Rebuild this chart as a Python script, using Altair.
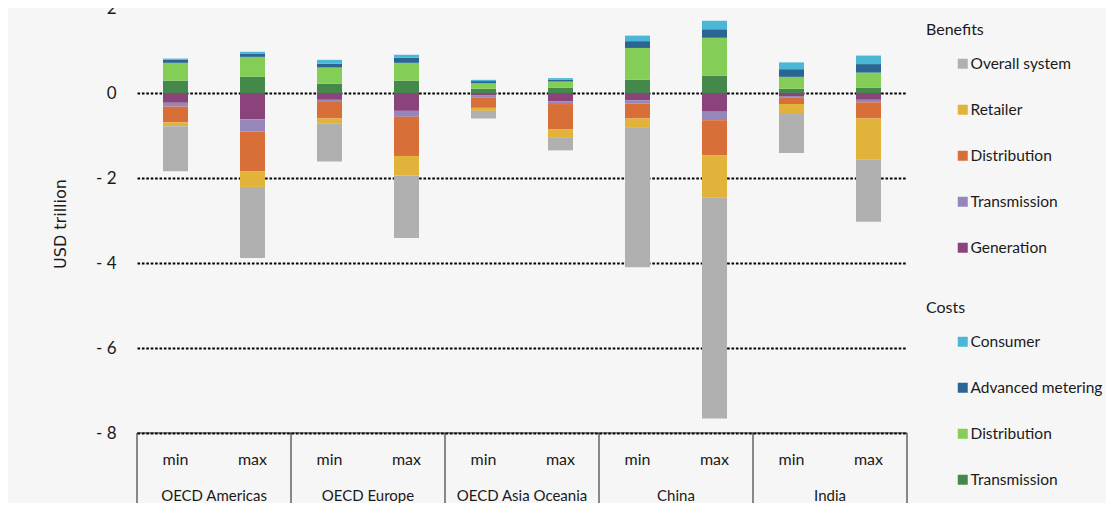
import altair as alt
import pandas as pd

# ---------------- data ----------------
regions = ["OECD Americas", "OECD Europe", "OECD Asia Oceania", "China", "India"]
scenarios = ["min", "max"]

# Benefits (USD trillion, drawn below zero); stacking order from zero downwards
benefit_names = ["Generation", "Transmission", "Distribution", "Retailer", "Overall system"]
benefit_colors = ["#8b437b", "#9587b9", "#d96f38", "#e1b33a", "#b0b0b0"]
ben_generation   = [0.23, 0.62, 0.16, 0.42, 0.06, 0.20, 0.17, 0.44, 0.07, 0.16]
ben_transmission = [0.09, 0.29, 0.05, 0.14, 0.04, 0.06, 0.08, 0.20, 0.03, 0.06]
ben_distribution = [0.37, 0.93, 0.39, 0.92, 0.25, 0.60, 0.35, 0.83, 0.16, 0.38]
ben_retailer     = [0.09, 0.37, 0.11, 0.46, 0.07, 0.18, 0.22, 0.98, 0.21, 0.96]
ben_overall      = [1.06, 1.67, 0.90, 1.47, 0.18, 0.31, 3.28, 5.21, 0.94, 1.47]

# Costs (USD trillion, drawn above zero); stacking order from zero upwards
cost_names = ["Transmission", "Distribution", "Advanced metering", "Consumer"]
cost_colors = ["#44884c", "#84ce57", "#2a6594", "#49b7d5"]
cost_transmission = [0.29, 0.38, 0.22, 0.29, 0.10, 0.12, 0.31, 0.41, 0.10, 0.12]
cost_distribution = [0.42, 0.47, 0.38, 0.42, 0.13, 0.15, 0.75, 0.89, 0.28, 0.36]
cost_metering     = [0.07, 0.07, 0.09, 0.12, 0.05, 0.04, 0.16, 0.20, 0.18, 0.20]
cost_consumer     = [0.03, 0.05, 0.09, 0.07, 0.03, 0.04, 0.13, 0.20, 0.16, 0.20]

y_ticks = [-8, -6, -4, -2, 0, 2]

# ---------------- tables ----------------
bar_ids = [f"{r}|{s}" for r in regions for s in scenarios]
bar_scen = [s for r in regions for s in scenarios]

ben_series = [ben_generation, ben_transmission, ben_distribution, ben_retailer, ben_overall]
cost_series = [cost_transmission, cost_distribution, cost_metering, cost_consumer]

ben_rows = []
for k, (name, vals) in enumerate(zip(benefit_names, ben_series)):
    for b, v in zip(bar_ids, vals):
        ben_rows.append({"bar": b, "category": name, "value": -v, "ord": k})
df_ben = pd.DataFrame(ben_rows)

cost_rows = []
for k, (name, vals) in enumerate(zip(cost_names, cost_series)):
    for b, v in zip(bar_ids, vals):
        cost_rows.append({"bar": b, "category": name, "value": v, "ord": k})
df_cost = pd.DataFrame(cost_rows)

df_bars = pd.DataFrame({"bar": bar_ids, "scen": bar_scen})
df_sep = pd.DataFrame({"b": list(range(len(regions) + 1))})
df_top = pd.DataFrame({"b0": [0], "b1": [len(regions)]})
df_reg = pd.DataFrame({"c": [i + 0.5 for i in range(len(regions))], "region": regions})

# ---------------- styling ----------------
FONT = "Lato, Liberation Sans, sans-serif"
TXT = "#1a1a1a"
W, H = 770, 425

x_band = alt.X("bar:N", sort=bar_ids, axis=None,
               scale=alt.Scale(paddingInner=0, paddingOuter=0))
x_q = alt.Scale(domain=[0, len(regions)], nice=False, zero=True)

y_axis = alt.Axis(
    values=y_ticks, grid=True, gridColor="black", gridDash=[2.6, 1.8], gridWidth=2,
    gridOpacity={"condition": {"test": "datum.value >= 2", "value": 0}, "value": 1},
    domain=False, ticks=False, labelPadding=21, labelFont=FONT, labelFontSize=17,
    labelColor=TXT,
    labelExpr="datum.value < 0 ? '- ' + abs(datum.value) : datum.label",
    title="USD trillion", titleFont="DejaVu Sans", titleFontSize=16,
    titleFontWeight="normal", titleColor=TXT, titleX=-77, titleY=H / 2 + 3,
    titleAngle=-90, titleAlign="center", titleBaseline="middle",
)
y_scale = alt.Scale(domain=[-8, 2], nice=False, zero=False)


def legend(title, ly):
    return alt.Legend(
        title=title, orient="none", legendX=789, legendY=ly, direction="vertical",
        symbolType="square", symbolSize=100, symbolStrokeWidth=0, symbolOffset=29,
        labelOffset=0, labelFont=FONT, labelFontSize=15.5, labelColor=TXT,
        labelLimit=300, rowPadding=29, titleFont=FONT, titleFontSize=16,
        titleFontWeight="normal", titleColor=TXT, titlePadding=18,
    )


ben_layer = alt.Chart(df_ben).mark_bar(size=25).encode(
    x=x_band,
    y=alt.Y("value:Q", stack="zero", scale=y_scale, axis=y_axis),
    color=alt.Color("category:N",
                    scale=alt.Scale(domain=benefit_names[::-1], range=benefit_colors[::-1]),
                    legend=legend("Benefits", 14)),
    order=alt.Order("ord:Q", sort="ascending"),
)

cost_layer = alt.Chart(df_cost).mark_bar(size=25).encode(
    x=x_band,
    y=alt.Y("value:Q", stack="zero", scale=y_scale, axis=y_axis),
    color=alt.Color("category:N",
                    scale=alt.Scale(domain=cost_names[::-1], range=cost_colors[::-1]),
                    legend=legend("Costs", 292)),
    order=alt.Order("ord:Q", sort="ascending"),
)

sep_layer = alt.Chart(df_sep).mark_rule(color=TXT, strokeWidth=1).encode(
    x=alt.X("b:Q", scale=x_q, axis=None),
    y=alt.value(H), y2=alt.value(H + 80),
)

top_layer = alt.Chart(df_top).mark_rule(color=TXT, strokeWidth=1).encode(
    x=alt.X("b0:Q", scale=x_q, axis=None), x2="b1:Q",
    y=alt.value(H),
)

minmax_layer = alt.Chart(df_bars).mark_text(
    font=FONT, fontSize=16, color=TXT, baseline="middle", align="center"
).encode(x=x_band, y=alt.value(H + 27), text="scen:N")

region_layer = alt.Chart(df_reg).mark_text(
    font=FONT, fontSize=15, color=TXT, baseline="middle", align="center"
).encode(x=alt.X("c:Q", scale=x_q, axis=None), y=alt.value(H + 63), text="region:N")

chart = alt.layer(
    ben_layer, cost_layer, top_layer, sep_layer, minmax_layer, region_layer
).resolve_scale(
    x="independent", color="independent"
).properties(
    width=W, height=H,
    autosize=alt.AutoSizeParams(type="none"),
    padding={"left": 129, "top": 0, "right": 199, "bottom": 70},
    background="#f6f6f6",
).configure_view(stroke=None)

chart.save("out.html", embed_options={"renderer": "svg", "actions": False})
